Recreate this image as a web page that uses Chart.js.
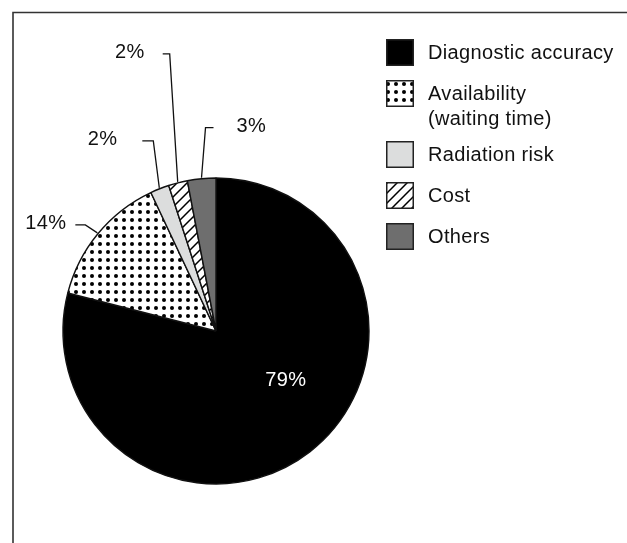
<!DOCTYPE html>
<html>
<head>
<meta charset="utf-8">
<script src="https://cdn.jsdelivr.net/npm/chart.js@4/dist/chart.umd.min.js"></script>
<style>
  html, body { margin: 0; padding: 0; background: #fff; }
  #wrap { width: 627px; height: 543px; position: relative; }
</style>
</head>
<body>
<div id="wrap"><canvas id="pie" width="627" height="543"></canvas></div>
<script>
// Survey answers: most important factor when choosing an imaging test
const categories = ['Diagnostic accuracy', 'Availability (waiting time)', 'Radiation risk', 'Cost', 'Others'];
const legendLines = [['Diagnostic accuracy'], ['Availability', '(waiting time)'], ['Radiation risk'], ['Cost'], ['Others']];
const shares = [79, 14, 2, 2, 3];
const shareLabels = shares.map(v => v + '%');

const FONT = '20px "Liberation Sans", Arial, Helvetica, sans-serif';
const SPACING = '0.35px';
const INK = '#111';

// fill patterns
function makeTile(size, draw) {
  const c = document.createElement('canvas');
  c.width = size; c.height = size;
  const g = c.getContext('2d');
  g.fillStyle = '#fff';
  g.fillRect(0, 0, size, size);
  draw(g, size);
  return document.createElement('canvas').getContext('2d').createPattern(c, 'repeat');
}
const dots = makeTile(8, g => {
  g.fillStyle = '#000';
  g.beginPath(); g.arc(4, 4, 2.0, 0, Math.PI * 2); g.fill();
});
const hatch = makeTile(10, (g, s) => {
  g.strokeStyle = '#000';
  g.lineWidth = 1.5;
  g.beginPath();
  g.moveTo(-1, s + 1); g.lineTo(s + 1, -1);
  g.moveTo(-1, 1); g.lineTo(1, -1);
  g.moveTo(s - 1, s + 1); g.lineTo(s + 1, s - 1);
  g.stroke();
});
const fills = ['#000000', dots, '#dcdddd', hatch, '#6e6e6e'];

// callout placement per slice: elbow offset from the rim point, tick length, gap to text
const callouts = [
  { inside: true, angleDeg: 35.5, radiusFactor: 0.56 },
  { dx: -12, dy: -8, tick: -10, gap: 9, align: 'right' },
  { dx: -6, dy: -47, tick: -11, gap: 25, align: 'right' },
  { dx: -8, dy: -128, tick: -7, gap: 18, align: 'right' },
  { dx: 4, dy: -50, tick: 8, gap: 23, align: 'left' }
];

const framePlugin = {
  id: 'frame',
  beforeDraw(chart) {
    const ctx = chart.ctx;
    ctx.save();
    ctx.strokeStyle = '#333';
    ctx.lineWidth = 1.6;
    ctx.beginPath();
    ctx.moveTo(13, chart.height);
    ctx.lineTo(13, 12.5);
    ctx.lineTo(chart.width, 12.5);
    ctx.stroke();
    ctx.restore();
  }
};

const calloutPlugin = {
  id: 'callouts',
  afterDatasetsDraw(chart) {
    const ctx = chart.ctx;
    const arcs = chart.getDatasetMeta(0).data;
    ctx.save();
    ctx.font = FONT;
    try { ctx.letterSpacing = SPACING; } catch (e) {}
    ctx.textBaseline = 'middle';
    arcs.forEach((arc, i) => {
      const p = arc.getProps(['x', 'y', 'startAngle', 'endAngle', 'outerRadius'], true);
      const c = callouts[i];
      if (c.inside) {
        const a = c.angleDeg * Math.PI / 180;
        ctx.fillStyle = '#fff';
        ctx.textAlign = 'center';
        ctx.fillText(shareLabels[i], p.x + Math.cos(a) * p.outerRadius * c.radiusFactor,
                     p.y + Math.sin(a) * p.outerRadius * c.radiusFactor);
        return;
      }
      const mid = (p.startAngle + p.endAngle) / 2;
      const ex = p.x + Math.cos(mid) * (p.outerRadius + 1);
      const ey = p.y + Math.sin(mid) * (p.outerRadius + 1);
      const bx = ex + c.dx, by = ey + c.dy;
      const tx = bx + c.tick;
      ctx.strokeStyle = INK;
      ctx.lineWidth = 1.3;
      ctx.beginPath();
      ctx.moveTo(ex, ey);
      ctx.lineTo(bx, by);
      ctx.lineTo(tx, by);
      ctx.stroke();
      ctx.fillStyle = INK;
      ctx.textAlign = c.align;
      const textX = c.align === 'right' ? tx - c.gap : tx + c.gap;
      ctx.fillText(shareLabels[i], textX, by - 1);
    });
    ctx.restore();
  }
};

const legendPlugin = {
  id: 'sideLegend',
  afterDraw(chart) {
    const ctx = chart.ctx;
    const boxX = 386, boxW = 28, boxH = 27, textX = 428;
    let top = 39;
    ctx.save();
    ctx.font = FONT;
    try { ctx.letterSpacing = SPACING; } catch (e) {}
    ctx.textBaseline = 'middle';
    ctx.textAlign = 'left';
    legendLines.forEach((lines, i) => {
      ctx.fillStyle = fills[i];
      ctx.fillRect(boxX, top, boxW, boxH);
      ctx.strokeStyle = '#222';
      ctx.lineWidth = 1.5;
      ctx.strokeRect(boxX + 0.75, top + 0.75, boxW - 1.5, boxH - 1.5);
      ctx.fillStyle = INK;
      lines.forEach((t, k) => ctx.fillText(t, textX, top + 14 + k * 25));
      top += 41 + (lines.length - 1) * 20;
    });
    ctx.restore();
  }
};

new Chart(document.getElementById('pie'), {
  type: 'pie',
  data: {
    labels: categories,
    datasets: [{
      data: shares,
      backgroundColor: fills,
      borderColor: '#111',
      borderWidth: 1.4,
      radius: 153
    }]
  },
  options: {
    responsive: false,
    devicePixelRatio: 1,
    animation: false,
    events: [],
    layout: { padding: { left: 63, right: 258, top: 178, bottom: 59 } },
    plugins: {
      legend: { display: false },
      tooltip: { enabled: false }
    }
  },
  plugins: [framePlugin, calloutPlugin, legendPlugin]
});
</script>
</body>
</html>
